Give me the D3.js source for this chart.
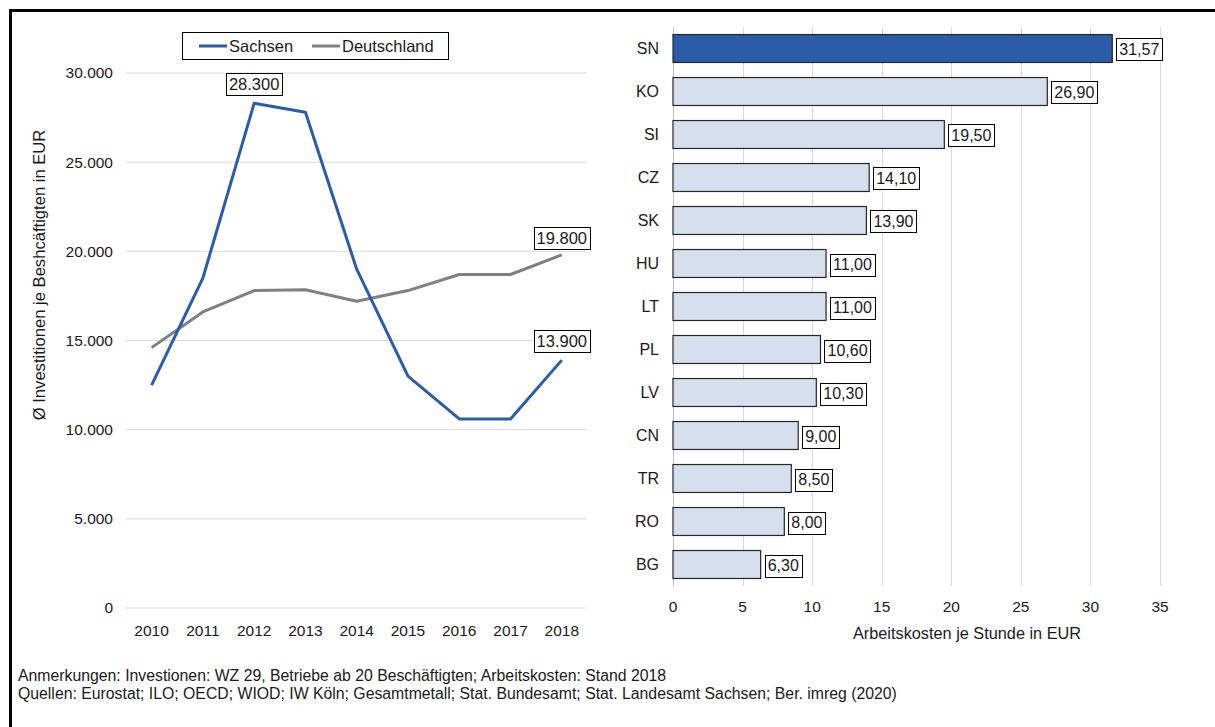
<!DOCTYPE html>
<html lang="de">
<head>
<meta charset="utf-8">
<title>Investitionen und Arbeitskosten</title>
<script src="https://d3js.org/d3.v7.min.js"></script>
<style>
  body { margin: 0; background: #fff; }
  svg text { font-family: "Liberation Sans", Arial, sans-serif; fill: #1a1a1a; }
</style>
</head>
<body>
<script>
// linker Teil: Investitionen je Beschaeftigten
var years = ["2010", "2011", "2012", "2013", "2014", "2015", "2016", "2017", "2018"];
var sachsen = [12500, 18500, 28300, 27800, 19000, 13000, 10600, 10600, 13900];
var deutschland = [14600, 16600, 17800, 17850, 17200, 17800, 18700, 18700, 19800];
var yTicks = [0, 5000, 10000, 15000, 20000, 25000, 30000];

// rechter Teil: Arbeitskosten je Stunde
var countries = ["SN", "KO", "SI", "CZ", "SK", "HU", "LT", "PL", "LV", "CN", "TR", "RO", "BG"];
var costs = [31.57, 26.90, 19.50, 14.10, 13.90, 11.00, 11.00, 10.60, 10.30, 9.00, 8.50, 8.00, 6.30];
var xTicks = [0, 5, 10, 15, 20, 25, 30, 35];

var W = 1215, H = 727;
var blue = "#2a5ca8", grey = "#808080";

var svg = d3.select("body").append("svg")
    .attr("width", W)
    .attr("height", H);

// Rahmen oben und links
svg.append("line").attr("x1", 10.5).attr("x2", W).attr("y1", 10.5).attr("y2", 10.5)
    .attr("stroke", "#000").attr("stroke-width", 3);
svg.append("line").attr("x1", 10.5).attr("x2", 10.5).attr("y1", 9).attr("y2", H)
    .attr("stroke", "#000").attr("stroke-width", 3);

var deFmt = d3.formatLocale({decimal: ",", thousands: ".", grouping: [3], currency: ["", " €"]});
var fmtInt = deFmt.format(",.0f");
var fmtDec = deFmt.format(".2f");

// ---------- Linien ----------
var x = d3.scalePoint().domain(years).range([151.6, 561.8]);
var y = d3.scaleLinear().domain([0, 30000]).range([608, 73]);

var left = svg.append("g");

left.selectAll(".grid").data(yTicks).enter().append("line")
    .attr("x1", 126).attr("x2", 587)
    .attr("y1", function (d) { return y(d); })
    .attr("y2", function (d) { return y(d); })
    .attr("stroke", "#d9d9d9").attr("stroke-width", 1);

left.selectAll(".ytick").data(yTicks).enter().append("text")
    .attr("x", 113)
    .attr("y", function (d) { return y(d); })
    .attr("dy", "0.35em")
    .attr("text-anchor", "end")
    .attr("font-size", 15.5)
    .text(function (d) { return d === 0 ? "0" : fmtInt(d); });

left.selectAll(".xtick").data(years).enter().append("text")
    .attr("x", function (d) { return x(d); })
    .attr("y", 631)
    .attr("dy", "0.35em")
    .attr("text-anchor", "middle")
    .attr("font-size", 15.5)
    .text(function (d) { return d; });

left.append("text")
    .attr("transform", "translate(39,275) rotate(-90)")
    .attr("text-anchor", "middle")
    .attr("dy", "0.35em")
    .attr("font-size", 16.6)
    .text("Ø Investitionen je Beshcäftigten in EUR");

var line = d3.line()
    .x(function (d, i) { return x(years[i]); })
    .y(function (d) { return y(d); });

left.append("path").datum(deutschland)
    .attr("d", line).attr("fill", "none")
    .attr("stroke", grey).attr("stroke-width", 3).attr("stroke-linejoin", "round");
left.append("path").datum(sachsen)
    .attr("d", line).attr("fill", "none")
    .attr("stroke", blue).attr("stroke-width", 3).attr("stroke-linejoin", "round");

// Datenbeschriftungen
function labelBox(g, cx, cy, txt, fs) {
    var t = g.append("text")
        .attr("x", cx).attr("y", cy)
        .attr("dy", "0.35em")
        .attr("text-anchor", "middle")
        .attr("font-size", fs)
        .text(txt);
    var bb = t.node().getBBox();
    g.insert("rect", "text")
        .attr("x", Math.round(bb.x - 3) + 0.5)
        .attr("y", Math.round(cy - 11) + 0.5)
        .attr("width", Math.round(bb.width + 6))
        .attr("height", 22)
        .attr("fill", "#fff").attr("stroke", "#000").attr("stroke-width", 1);
}
var lineLabels = [
    {i: 2, v: sachsen[2], dy: -19},
    {i: 8, v: deutschland[8], dy: -17},
    {i: 8, v: sachsen[8], dy: -19}
];
lineLabels.forEach(function (d) {
    labelBox(left.append("g"), x(years[d.i]), y(d.v) + d.dy, fmtInt(d.v), 16.5);
});

// Legende
var leg = left.append("g");
leg.append("rect").attr("x", 182.5).attr("y", 32.5).attr("width", 266).attr("height", 27)
    .attr("fill", "#fff").attr("stroke", "#000").attr("stroke-width", 1);
var legItems = [{name: "Sachsen", c: blue, x0: 199}, {name: "Deutschland", c: grey, x0: 312}];
legItems.forEach(function (d) {
    leg.append("line").attr("x1", d.x0).attr("x2", d.x0 + 28).attr("y1", 46).attr("y2", 46)
        .attr("stroke", d.c).attr("stroke-width", 3);
    leg.append("text").attr("x", d.x0 + 30).attr("y", 46).attr("dy", "0.35em")
        .attr("font-size", 16.5).text(d.name);
});

// ---------- Balken ----------
var xb = d3.scaleLinear().domain([0, 35]).range([673, 1160]);
var yb = d3.scaleBand().domain(countries).range([27, 586]).paddingInner(0.35).paddingOuter(0.175);

var right = svg.append("g");

right.selectAll(".gridb").data(xTicks).enter().append("line")
    .attr("x1", function (d) { return Math.round(xb(d)) + 0.5; })
    .attr("x2", function (d) { return Math.round(xb(d)) + 0.5; })
    .attr("y1", 27).attr("y2", 586)
    .attr("stroke", function (d) { return d === 0 ? "#bfbfbf" : "#d9d9d9"; })
    .attr("stroke-width", 1);

right.selectAll(".xtickb").data(xTicks).enter().append("text")
    .attr("x", function (d) { return xb(d); })
    .attr("y", 607)
    .attr("dy", "0.35em")
    .attr("text-anchor", "middle")
    .attr("font-size", 15.5)
    .text(function (d) { return d; });

right.append("text")
    .attr("x", 967).attr("y", 633).attr("dy", "0.35em")
    .attr("text-anchor", "middle").attr("font-size", 16.3)
    .text("Arbeitskosten je Stunde in EUR");

right.selectAll(".cat").data(countries).enter().append("text")
    .attr("x", 659)
    .attr("y", function (d) { return yb(d) + yb.bandwidth() / 2; })
    .attr("dy", "0.35em")
    .attr("text-anchor", "end")
    .attr("font-size", 16)
    .text(function (d) { return d; });

right.selectAll(".bar").data(costs).enter().append("rect")
    .attr("x", xb(0))
    .attr("y", function (d, i) { return yb(countries[i]); })
    .attr("width", function (d) { return xb(d) - xb(0); })
    .attr("height", yb.bandwidth())
    .attr("fill", function (d, i) { return i === 0 ? blue : "#d6dfee"; })
    .attr("stroke", "#262626").attr("stroke-width", 1.2);

costs.forEach(function (d, i) {
    var g = right.append("g");
    var t = g.append("text")
        .attr("x", xb(d) + 7)
        .attr("y", yb(countries[i]) + yb.bandwidth() / 2 + 1)
        .attr("dy", "0.35em")
        .attr("font-size", 16)
        .text(fmtDec(d));
    var bb = t.node().getBBox();
    g.insert("rect", "text")
        .attr("x", Math.round(xb(d) + 4) + 0.5)
        .attr("y", Math.round(yb(countries[i]) + yb.bandwidth() / 2 - 10) + 0.5)
        .attr("width", Math.round(bb.width + 6))
        .attr("height", 22)
        .attr("fill", "#fff").attr("stroke", "#000").attr("stroke-width", 1);
});

// Fussnoten
var notes = [
    "Anmerkungen: Investionen: WZ 29, Betriebe ab 20 Beschäftigten; Arbeitskosten: Stand 2018",
    "Quellen: Eurostat; ILO; OECD; WIOD; IW Köln; Gesamtmetall; Stat. Bundesamt; Stat. Landesamt Sachsen; Ber. imreg (2020)"
];
svg.selectAll(".note").data(notes).enter().append("text")
    .attr("x", 18)
    .attr("y", function (d, i) { return 675 + i * 18; })
    .attr("dy", "0.35em")
    .attr("font-size", 15.8)
    .text(function (d) { return d; });
</script>
</body>
</html>
